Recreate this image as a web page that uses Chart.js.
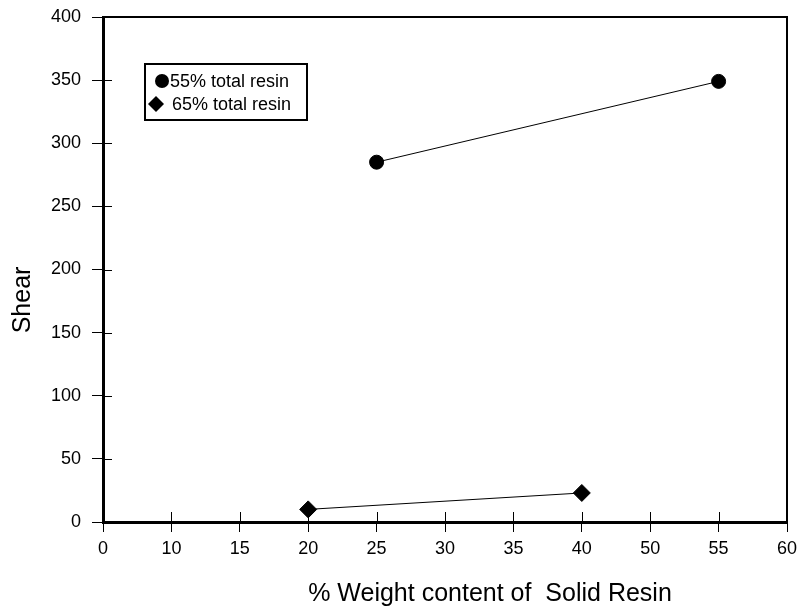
<!DOCTYPE html>
<html>
<head>
<meta charset="utf-8">
<script src="https://cdn.jsdelivr.net/npm/chart.js@4"></script>
<style>
  html, body { margin: 0; padding: 0; background: #fff; }
  canvas { display: block; }
</style>
</head>
<body>
<canvas id="shearchart" width="799" height="607"></canvas>
<script>
const xLabels = ['0', '10', '15', '20', '25', '30', '35', '40', '50', '55', '60'];
const seriesNames = ['55% total resin', '65% total resin'];
const resin55X = ['25', '55'];
const resin55Y = [285, 349];
const resin65X = ['20', '40'];
const resin65Y = [10, 23];
const xTitle = '% Weight content of  Solid Resin';
const yTitle = 'Shear';

const FONT = "'Liberation Sans', Arial, sans-serif";

// frame, inner tick halves, legend box and axis titles
const decor = {
  id: 'decor',
  afterDraw(chart) {
    const c = chart.ctx, a = chart.chartArea;
    const xs = chart.scales.x, ys = chart.scales.y;
    c.save();
    c.strokeStyle = '#000';
    c.lineWidth = 2;
    c.strokeRect(a.left, a.top, a.right - a.left, a.bottom - a.top);

    c.lineWidth = 1;
    c.beginPath();
    xs.ticks.forEach((t, i) => {
      const px = Math.round(xs.getPixelForTick(i)) + 0.5;
      c.moveTo(px, a.bottom); c.lineTo(px, a.bottom - 10);
    });
    ys.ticks.forEach((t, i) => {
      const py = Math.round(ys.getPixelForTick(i)) + 0.5;
      c.moveTo(a.left, py); c.lineTo(a.left + 9, py);
    });
    c.stroke();

    // legend
    c.lineWidth = 2;
    c.strokeRect(145, 64, 162, 56);
    c.fillStyle = '#000';
    c.beginPath();
    c.arc(162, 81, 7, 0, Math.PI * 2);
    c.fill();
    c.beginPath();
    c.moveTo(156, 96); c.lineTo(164, 104); c.lineTo(156, 112); c.lineTo(148, 104);
    c.closePath();
    c.fill();
    c.font = '18px ' + FONT;
    c.textBaseline = 'middle';
    c.textAlign = 'left';
    c.fillText(chart.data.datasets[0].label, 170, 82);
    c.fillText(chart.data.datasets[1].label, 172, 105);

    // axis titles
    c.font = '25px ' + FONT;
    c.textAlign = 'center';
    c.textBaseline = 'alphabetic';
    c.fillText(xTitle, 490, 601);
    c.translate(30, 300);
    c.rotate(-Math.PI / 2);
    c.fillText(yTitle, 0, 0);
    c.restore();
  }
};

const ctx = document.getElementById('shearchart').getContext('2d');

new Chart(ctx, {
  type: 'line',
  data: {
    labels: xLabels,
    datasets: [{
      label: seriesNames[0],
      data: resin55X.map((x, i) => ({ x: x, y: resin55Y[i] })),
      borderColor: '#000',
      borderWidth: 1,
      pointStyle: 'circle',
      pointRadius: 7,
      pointBackgroundColor: '#000',
      pointBorderColor: '#000',
      fill: false
    }, {
      label: seriesNames[1],
      data: resin65X.map((x, i) => ({ x: x, y: resin65Y[i] })),
      borderColor: '#000',
      borderWidth: 1,
      pointStyle: 'rectRot',
      pointRadius: 8.5,
      pointBackgroundColor: '#000',
      pointBorderColor: '#000',
      fill: false
    }]
  },
  options: {
    responsive: false,
    animation: false,
    layout: { padding: { top: 17, right: 12, left: 0, bottom: 0 } },
    plugins: {
      legend: { display: false },
      tooltip: { enabled: false }
    },
    scales: {
      x: {
        type: 'category',
        offset: false,
        afterFit(scale) {
          scale.height = 85;
          scale.paddingLeft = 0;
          scale.paddingRight = 0;
        },
        grid: { drawOnChartArea: false, color: '#000', tickLength: 10, lineWidth: 1 },
        border: { color: '#000', width: 3 },
        ticks: { color: '#000', padding: 6, autoSkip: false, maxRotation: 0, font: { family: FONT, size: 18 } }
      },
      y: {
        min: 0,
        max: 400,
        afterFit(scale) {
          scale.width = 103;
          scale.paddingTop = 0;
          scale.paddingBottom = 0;
        },
        grid: { drawOnChartArea: false, color: '#000', tickLength: 11, lineWidth: 1 },
        border: { color: '#000', width: 3 },
        ticks: { stepSize: 50, color: '#000', padding: 11, font: { family: FONT, size: 18 } }
      }
    }
  },
  plugins: [decor]
});
</script>
</body>
</html>
